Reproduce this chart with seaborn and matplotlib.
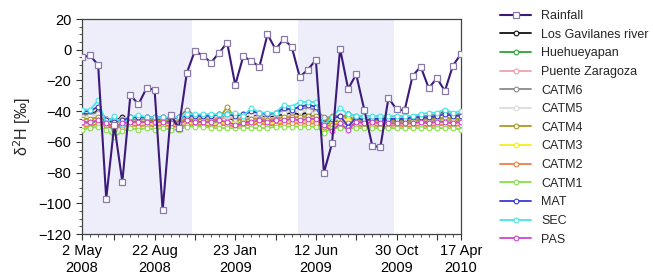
import matplotlib as mpl
import matplotlib.pyplot as plt
import matplotlib.ticker as mticker
import seaborn as sns
import numpy as np

mpl.use('Agg')

# sample index along the x axis (one per sampling campaign)
idx = np.arange(48)

rainfall = [-5, -3.6, -10, -97, -49, -86, -29.5, -35.5, -25, -26, -104.5, -42.5,
            -51, -15, -0.6, -4, -8.3, -2, 4.6, -23, -4.2, -7.3, -11, 10,
            0.3, 6.8, 2, -17.7, -13, -6.6, -80, -61, 0.7, -25.5, -16, -39,
            -62.7, -63.3, -31.5, -38.7, -39.5, -17, -11, -25, -18.5, -26.8, -10.3, -2.7]
gavilanes = [-42, -42, -40, -45, -46, -44, -45, -44, -45, -46, -45, -47,
             -46, -45, -45, -44, -44, -43, -44, -46, -44, -43, -42, -44,
             -43, -42, -41, -42, -41, -40, -45, -47, -46, -42, -44, -46,
             -45, -46, -45, -45, -46, -45, -44, -45, -43, -40, -44, -42]
huehueyapan = [-47, -48, -46, -49, -52, -48, -47, -48, -47, -48, -47, -48,
               -49, -47, -47, -47, -48, -47, -47, -48, -47, -47, -47, -46,
               -47, -46, -46, -47, -46, -46, -49, -47, -45, -44, -46, -48,
               -47, -48, -47, -47, -47, -47, -46, -47, -46, -45, -47, -46]
zaragoza = [-48, -46, -44, -45, -47, -45, -44, -45, -44, -44, -45, -45,
            -46, -44, -45, -44, -45, -45, -44, -45, -45, -44, -44, -45,
            -44, -44, -43, -44, -44, -43, -45, -46, -45, -44, -45, -46,
            -45, -46, -46, -46, -46, -46, -45, -46, -45, -45, -46, -45]
catm6 = [-43, -42, -41, -45, -46, -45, -44, -44, -44, -44, -44, -45,
         -44, -39, -43, -43, -43, -42, -42, -43, -42, -41, -41, -42,
         -41, -40, -38, -38, -38, -39, -44, -44, -44, -42, -43, -44,
         -44, -44, -44, -44, -44, -44, -43, -43, -42, -41, -42, -42]
catm5 = [-44, -43, -42, -45, -47, -45, -44, -45, -44, -44, -45, -45,
         -45, -42, -44, -43, -44, -43, -43, -44, -43, -42, -42, -43,
         -42, -41, -40, -40, -40, -41, -45, -45, -45, -43, -44, -45,
         -44, -45, -45, -44, -45, -45, -44, -44, -43, -42, -43, -43]
catm4 = [-45, -45, -44, -46, -48, -46, -45, -46, -45, -46, -46, -46,
         -47, -45, -46, -45, -46, -45, -37, -45, -46, -45, -45, -46,
         -45, -44, -44, -44, -43, -43, -47, -43, -43, -44, -45, -46,
         -46, -46, -46, -46, -46, -46, -45, -45, -45, -44, -45, -45]
catm3 = [-47, -47, -46, -48, -50, -48, -48, -48, -48, -48, -48, -48,
         -49, -47, -48, -48, -48, -48, -47, -48, -48, -48, -47, -48,
         -47, -47, -46, -47, -46, -46, -51, -48, -47, -46, -47, -48,
         -48, -48, -48, -48, -48, -48, -47, -48, -47, -47, -48, -47]
catm2 = [-50, -50, -48, -49, -51, -50, -49, -50, -49, -50, -49, -50,
         -50, -49, -49, -49, -50, -49, -49, -50, -49, -49, -48, -49,
         -49, -48, -48, -48, -48, -48, -50, -49, -48, -48, -49, -50,
         -49, -50, -50, -49, -50, -50, -49, -50, -49, -49, -50, -49]
catm1 = [-52, -51, -50, -52, -57, -53, -51, -52, -51, -52, -51, -52,
         -52, -50, -50, -50, -51, -51, -51, -51, -51, -51, -51, -51,
         -50, -50, -50, -50, -50, -50, -54, -51, -51, -51, -51, -51,
         -51, -51, -51, -51, -51, -51, -51, -51, -51, -51, -51, -52]
mat = [-40, -40, -37, -46, -47, -46, -44, -44, -44, -44, -44, -45,
       -44, -43, -43, -43, -43, -42, -42, -43, -42, -40, -41, -42,
       -41, -38, -39, -37, -36, -37, -48, -45, -43, -50, -44, -46,
       -45, -45, -45, -45, -45, -44, -44, -44, -43, -42, -43, -43]
sec = [-39, -39, -33, -48, -43, -49, -44, -42.5, -44, -44, -44, -44,
       -44, -42, -42, -42, -42, -42, -42, -41, -43, -38, -41, -41,
       -41, -36, -37, -34, -34, -34, -49, -44, -38, -42, -43, -43,
       -43, -43, -43, -43, -43, -43, -42, -41, -41, -39, -41, -40]
pas = [-47, -47, -46, -48, -50, -48, -47, -47, -47, -47, -47, -48,
       -48, -46, -47, -47, -47, -46, -47, -49, -48, -47, -46, -47,
       -46, -46, -45, -46, -45, -45, -49, -53, -48, -52, -47, -48,
       -47, -48, -48, -48, -48, -48, -47, -48, -47, -47, -48, -47]

series = [
    ("Rainfall", rainfall, "#3c1a7a"),
    ("Los Gavilanes river", gavilanes, "#111111"),
    ("Huehueyapan", huehueyapan, "#2aa33a"),
    ("Puente Zaragoza", zaragoza, "#f2a0aa"),
    ("CATM6", catm6, "#8a8a8a"),
    ("CATM5", catm5, "#dadada"),
    ("CATM4", catm4, "#a89a22"),
    ("CATM3", catm3, "#f4ee22"),
    ("CATM2", catm2, "#e8804a"),
    ("CATM1", catm1, "#86e046"),
    ("MAT", mat, "#3b3bd0"),
    ("SEC", sec, "#44e6e6"),
    ("PAS", pas, "#d044d0"),
]

# wet-season shading, in sample index units
seasons = [(0, 13.6), (26.8, 38.7)]

tick_pos = [0, 4, 9, 14, 19, 24, 29, 34, 39, 44, 47]
tick_lab = {0: "2 May\n2008", 9: "22 Aug\n2008", 19: "23 Jan\n2009",
            29: "12 Jun\n2009", 39: "30 Oct\n2009", 47: "17 Apr\n2010"}

sns.set_style("ticks")
plt.rcParams['font.family'] = ['Liberation Sans', 'DejaVu Sans']

fig = plt.figure(figsize=(6.53, 2.76), dpi=100)
ax = fig.add_axes([0.1256, 0.152, 0.5804, 0.779])

for a, b in seasons:
    ax.axvspan(a, b, color="#eeeefb", lw=0, zorder=0)

for i, (name, vals, col) in enumerate(series):
    if name == "Rainfall":
        sns.lineplot(x=idx, y=vals, ax=ax, color=col, lw=1.5, marker="s",
                     markersize=5, markerfacecolor="white",
                     markeredgecolor="#8a7aa8", markeredgewidth=0.9,
                     label=name, zorder=20)
    else:
        sns.lineplot(x=idx, y=vals, ax=ax, color=col, lw=1.3, marker="o",
                     markersize=3.4, markerfacecolor="white",
                     markeredgecolor=col, markeredgewidth=0.8,
                     label=name, zorder=5 + i)

ax.set_xlim(0, 47)
ax.set_ylim(-120, 20)
ax.set_xticks(tick_pos)
ax.set_xticklabels([tick_lab.get(p, "") for p in tick_pos], fontsize=10.5)
ax.xaxis.set_minor_locator(mticker.MultipleLocator(1))
ax.yaxis.set_major_locator(mticker.MultipleLocator(20))
ax.yaxis.set_minor_locator(mticker.MultipleLocator(5))
ax.tick_params(axis="both", which="major", length=4, width=0.8,
               labelsize=10.5, colors="#333333", labelcolor="black")
ax.tick_params(axis="both", which="minor", length=2, width=0.6,
               colors="#333333")
for s in ax.spines.values():
    s.set_color("#444444")
    s.set_linewidth(0.9)

ax.set_ylabel("δ$^2$H [‰]", fontsize=11.5, labelpad=4)

leg = ax.legend(loc="upper left", bbox_to_anchor=(1.09, 1.065),
                frameon=False, fontsize=9, handlelength=2.5,
                labelspacing=0.53, borderaxespad=0)

fig.savefig("out.png", dpi=100)
plt.close(fig)
